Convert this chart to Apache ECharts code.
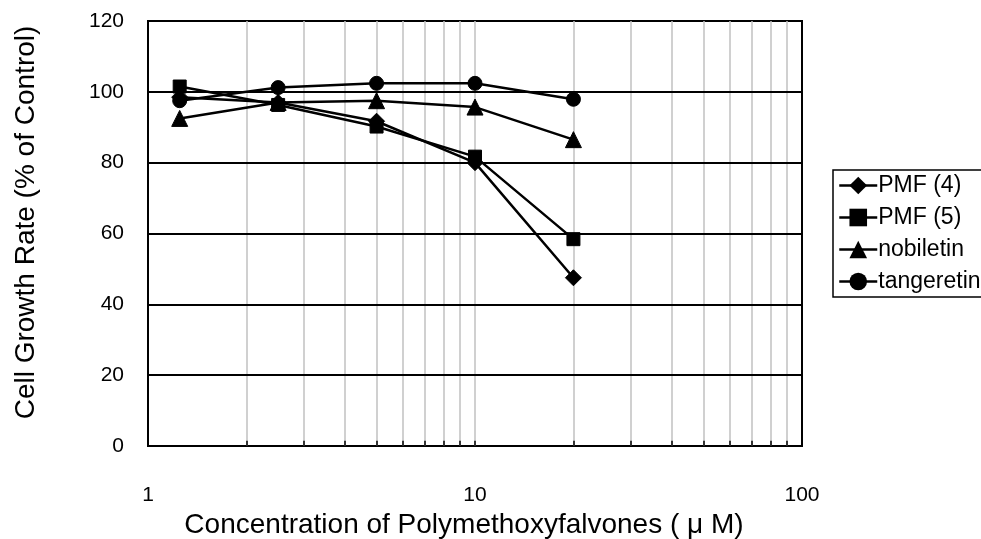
<!DOCTYPE html>
<html><head><meta charset="utf-8">
<script src="https://cdn.jsdelivr.net/npm/echarts@6/dist/echarts.min.js"></script>
<style>html,body{margin:0;padding:0;background:#fff}#c{width:981px;height:539px}</style>
</head><body><div id="c"></div>
<script>
var concentrations = [1.25, 2.5, 5, 10, 20];
var pmf4 = [98.5, 97, 91.7, 80, 47.5];
var pmf5 = [101.5, 96.3, 90.2, 81.7, 58.4];
var nobiletin = [92.5, 97, 97.5, 95.7, 86.5];
var tangeretin = [97.5, 101.2, 102.4, 102.4, 97.9];
var seriesNames = ['PMF (4)', 'PMF (5)', 'nobiletin', 'tangeretin'];
var xGridValues = [2,3,4,5,6,7,8,9,10,20,30,40,50,60,70,80,90];
var yGridValues = [20,40,60,80,100];
var xAxisName = 'Concentration of Polymethoxyfalvones ( \u03bc M)';
var yAxisName = 'Cell Growth Rate (% of Control)';

function pairs(vals){ return concentrations.map(function(c,i){ return [c, vals[i]]; }); }
var FONT = '"Liberation Sans", Arial, sans-serif';

var markData = [];
xGridValues.forEach(function(v){
  markData.push({xAxis: v, lineStyle:{color:'#c0c0c0', width:1.5, type:'solid'}});
});
yGridValues.forEach(function(v){
  markData.push({yAxis: v, lineStyle:{color:'#000', width:2, type:'solid'}});
});
xGridValues.forEach(function(v){
  markData.push([{coord:[v,0], lineStyle:{color:'#000', width:1.5, type:'solid'}},{coord:[v,1.5]}]);
});

function mk(name, vals, symbol, size){
  return {name:name, type:'line', data:pairs(vals), symbol:symbol, symbolSize:size,
    showAllSymbol:true, z:5,
    itemStyle:{color:'#000', borderColor:'#000'}, lineStyle:{color:'#000', width:2.5}};
}

var chart = echarts.init(document.getElementById('c'), null, {renderer:'canvas'});
chart.setOption({
  animation:false,
  backgroundColor:'#fff',
  textStyle:{fontFamily:FONT},
  grid:{left:148, right:179, top:21, bottom:93, show:true, borderColor:'#000', borderWidth:2, backgroundColor:'transparent', containLabel:false, outerBoundsMode:'none'},
  legend:{
    orient:'vertical', left:833, top:170, data:seriesNames,
    borderColor:'#000', borderWidth:1.5, padding:[4,40,4,5],
    itemWidth:38, itemHeight:22, itemGap:9,
    lineStyle:{width:2.5},
    textStyle:{fontSize:23, color:'#000', fontFamily:FONT, padding:[0,0,0,-4]}
  },
  xAxis:{type:'log', logBase:10, min:1, max:100,
    name:xAxisName, nameLocation:'middle', nameGap:63,
    nameTextStyle:{fontSize:28, color:'#000', fontFamily:FONT, padding:[0,22,0,0]},
    axisLine:{show:true, lineStyle:{color:'#000', width:2}},
    axisTick:{show:false}, splitLine:{show:false}, minorTick:{show:false},
    axisLabel:{fontSize:21, color:'#000', margin:39, fontFamily:FONT}},
  yAxis:{type:'value', min:0, max:120, interval:20,
    name:yAxisName, nameLocation:'middle', nameGap:108,
    nameTextStyle:{fontSize:28, color:'#000', fontFamily:FONT, padding:[0,0,0,22]},
    axisLine:{show:true, lineStyle:{color:'#000', width:2}},
    axisTick:{show:false}, splitLine:{show:false},
    axisLabel:{fontSize:21, color:'#000', margin:24, fontFamily:FONT}},
  series:[
    {name:'_grid', type:'line', data:[], z:1, silent:true,
     markLine:{silent:true, symbol:['none','none'], z:1, label:{show:false}, animation:false, data:markData}},
    mk(seriesNames[0], pmf4, 'diamond', 16),
    mk(seriesNames[1], pmf5, 'rect', 13),
    mk(seriesNames[2], nobiletin, 'triangle', 16),
    mk(seriesNames[3], tangeretin, 'circle', 14)
  ]
});
</script></body></html>
